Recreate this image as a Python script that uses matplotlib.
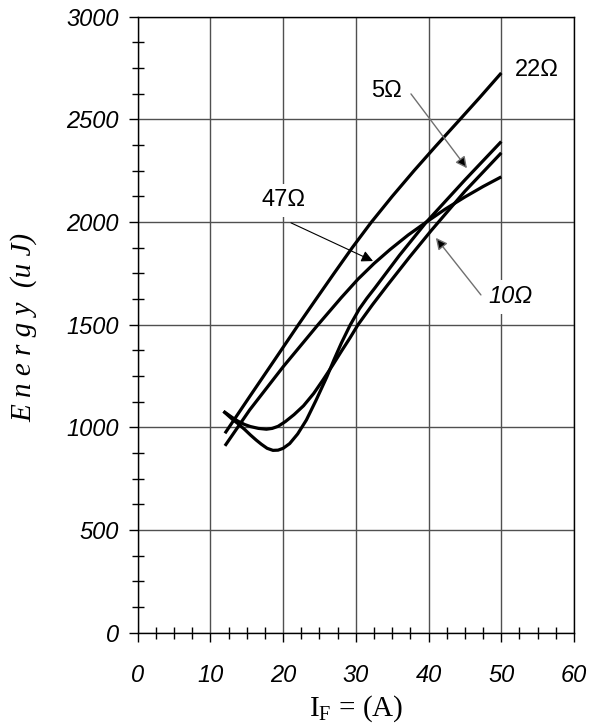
import matplotlib
matplotlib.use('Agg')
import matplotlib.pyplot as plt
from matplotlib.ticker import MultipleLocator

# ---- data ----
x_22 = [12, 15.4, 18.7, 22.1, 24.5, 27, 29.5, 32.1, 35, 38, 41, 44.2, 47, 50]
e_22 = [971, 1150, 1322, 1500, 1623, 1750, 1875, 1998, 2125, 2250, 2370, 2495, 2605, 2726]

x_47 = [12, 15.4, 20, 24.8, 28, 30.3, 32.5, 34.7, 37.2, 39.7, 42.3, 45, 47.5, 50]
e_47 = [910, 1085, 1295, 1500, 1632, 1722, 1798, 1866, 1937, 2000, 2063, 2122, 2173, 2220]

x_10 = [11.8, 13, 13.8, 14.7, 15.5, 16.6, 17.7, 18.5, 19.3, 20.3, 21.5, 22.8, 24.2, 25.5,
        26.8, 28, 29.2, 30.3, 32.3, 34.4, 37.4, 40.4, 45, 50]
e_10 = [1078, 1048, 1030, 1014, 1004, 995, 991, 995, 1005, 1028, 1062, 1105, 1165, 1232,
        1302, 1370, 1436, 1500, 1598, 1695, 1830, 1960, 2150, 2337]

x_5 = [11.8, 13, 13.8, 14.7, 15.5, 16.3, 17, 17.8, 18.6, 19.3, 20, 20.9, 22, 23.2, 24.5,
       26, 27, 28, 29.2, 30.5, 31.5, 32.6, 34.3, 36, 39.7, 45, 50]
e_5 = [1078, 1040, 1018, 990, 963, 938, 918, 898, 888, 889, 898, 921, 968, 1036, 1130,
       1245, 1330, 1410, 1497, 1578, 1628, 1678, 1758, 1838, 2000, 2205, 2392]

x_ticks = [0, 10, 20, 30, 40, 50, 60]
y_ticks = [0, 500, 1000, 1500, 2000, 2500, 3000]

W, H = 591, 727
fig = plt.figure(figsize=(W / 100, H / 100), dpi=100)
ax = fig.add_axes([137.7 / W, 1 - 632.7 / H, (574 - 137.7) / W, (632.7 - 16.7) / H])

for xs, es in [(x_22, e_22), (x_47, e_47), (x_10, e_10), (x_5, e_5)]:
    ax.plot(xs, es, color='black', lw=2.3, solid_capstyle='butt', solid_joinstyle='round', zorder=3)

ax.set_xlim(0, 60)
ax.set_ylim(0, 3000)
ax.set_xticks(x_ticks)
ax.set_yticks(y_ticks)
ax.xaxis.set_minor_locator(MultipleLocator(2.5))
ax.yaxis.set_minor_locator(MultipleLocator(125))
ax.grid(True, which='major', color='#505050', lw=1.0, zorder=1)
for s in ax.spines.values():
    s.set_color('black')
    s.set_linewidth(1.0)

tick_font = dict(family='Liberation Sans', style='italic', size=17)
ax.set_xticklabels([str(v) for v in x_ticks], fontdict=tick_font)
ax.set_yticklabels([str(v) for v in y_ticks], fontdict=tick_font)
ax.tick_params(which='major', direction='out', length=6.5, width=1.0, color='black')
ax.tick_params(which='minor', direction='inout', length=9, width=1.0, color='black')
ax.tick_params(axis='x', which='major', pad=16)
ax.tick_params(axis='y', which='major', pad=7)

# axis labels
fig.text(24 / W, 1 - 327 / H, 'E n e r g y  (u J)', rotation=90, ha='center', va='center',
         family='Liberation Serif', style='italic', size=21)
fig.text(356 / W, 1 - 716 / H, r'I$_\mathregular{F}$ = (A)', ha='center', va='baseline',
         family='Liberation Serif', size=21)

# curve labels and arrows
box = dict(facecolor='white', edgecolor='none', pad=4)
ax.text(54.9, 2740, '22\u03a9', ha='center', va='center', family='Liberation Sans', size=17, zorder=4)
ax.text(34.2, 2638, '5\u03a9', ha='center', va='center', family='Liberation Sans', size=17, zorder=4)
ax.text(20.1, 2106, '47\u03a9', ha='center', va='center', family='Liberation Sans', size=17,
        bbox=box, zorder=4)
ax.text(51.3, 1635, '10\u03a9', ha='center', va='center', family='Liberation Sans', style='italic',
        size=17, bbox=box, zorder=4)

ax.annotate('', xy=(45.28, 2262), xytext=(37.58, 2624),
            arrowprops=dict(arrowstyle='-|>', edgecolor='#707070', facecolor='black', lw=1.0,
                            mutation_scale=17, shrinkA=0, shrinkB=0), zorder=5)
ax.annotate('', xy=(32.36, 1810), xytext=(21.08, 1996),
            arrowprops=dict(arrowstyle='-|>', edgecolor='black', facecolor='black', lw=0.8,
                            mutation_scale=17, shrinkA=0, shrinkB=0), zorder=5)
ax.annotate('', xy=(41.0, 1923), xytext=(47.2, 1645),
            arrowprops=dict(arrowstyle='-|>', edgecolor='#707070', facecolor='black', lw=1.0,
                            mutation_scale=17, shrinkA=0, shrinkB=0), zorder=5)

fig.savefig('out.png', dpi=100)
